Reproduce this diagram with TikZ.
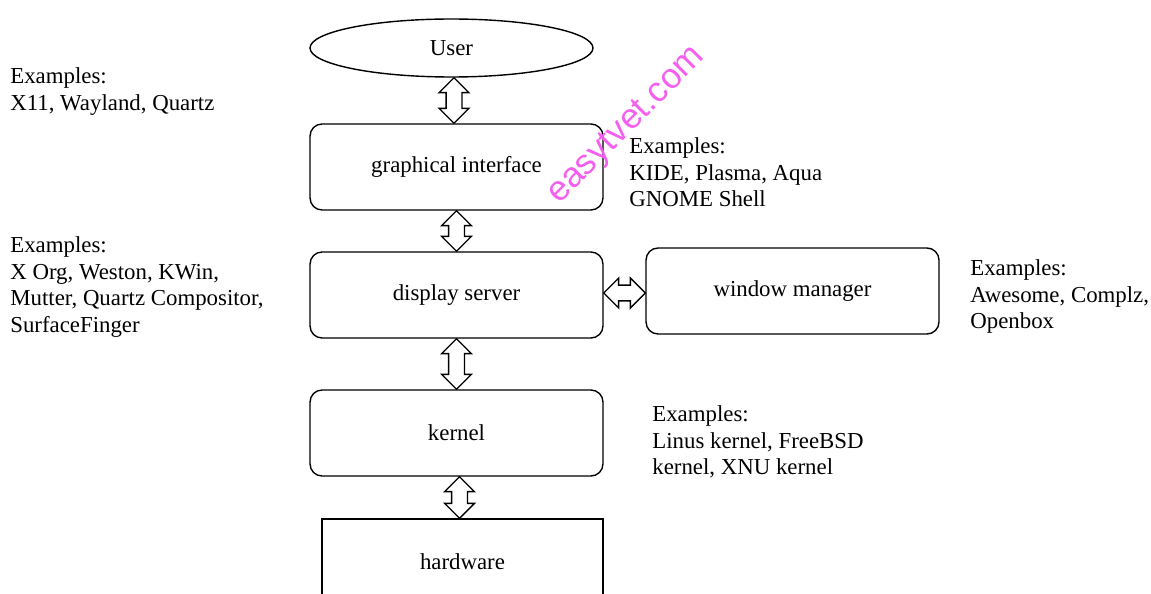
\documentclass[tikz,border=0pt]{standalone}
\usepackage{fontspec}
\setmainfont{Liberation Serif}
\newfontfamily\sitefont{Liberation Sans}
\usepackage{tikz}
\usetikzlibrary{positioning,shapes,calc}

\definecolor{sitepink}{RGB}{245,95,240}

\tikzset{
  layer/.style={draw, line width=0.8pt, rounded corners=0.24cm, minimum width=5.86cm, minimum height=1.72cm, inner sep=0, font=\fontsize{13}{15.3}\selectfont},
  examples/.style={anchor=north west, align=left, inner sep=0, font=\fontsize{13}{15.3}\selectfont},
  link/.style={draw, line width=0.75pt, fill=white, line join=miter}
}

% double arrow between two stacked boxes
\newcommand{\vlink}[2]{%
  \draw[link] let \p1=(#1.south), \p2=(#2.north), \p3=($(#1.south)!0.5!(#2.north)$) in
    (\x3,\y1) -- ++(-8.5pt,-8.5pt) -- ++(4pt,0) -- (\x3-4.5pt,\y2+8.5pt) -- ++(-4pt,0)
    -- (\x3,\y2) -- ++(8.5pt,8.5pt) -- ++(-4pt,0) -- (\x3+4.5pt,\y1-8.5pt) -- ++(4pt,0) -- cycle;}
% double arrow between two boxes side by side
\newcommand{\hlink}[2]{%
  \draw[link] let \p1=(#1.east), \p2=(#2.west), \p3=($(#1.east)!0.5!(#2.west)$) in
    (\x1,\y3) -- ++(8.5pt,8.5pt) -- ++(0,-4pt) -- (\x2-8.5pt,\y3+4.5pt) -- ++(0,4pt)
    -- (\x2,\y3) -- ++(-8.5pt,-8.5pt) -- ++(0,4pt) -- (\x1+8.5pt,\y3-4.5pt) -- ++(0,-4pt) -- cycle;}

\begin{document}
\begin{tikzpicture}[x=0.02cm, y=-0.02cm]
    % Fix the frame
    \useasboundingbox (0,0) rectangle (1151,594);
    \clip (0,0) rectangle (1151,594);

    % Draw user
    \node[draw, ellipse, line width=0.8pt, minimum width=5.66cm, minimum height=1.16cm, inner sep=0,
          font=\fontsize{13}{15.3}\selectfont] (user) at (451.5,48) {User};

    % Draw layers
    \node[layer] (gui) at (456.5,167) {graphical interface};
    \node[layer] (server) at (456.5,295) {display server};
    \node[layer] (wm) at (792.5,291) {window manager};
    \node[layer] (kernel) at (456.5,433) {kernel};
    \node[layer, rounded corners=0, minimum width=5.62cm, minimum height=1.7cm] (hw) at (462.5,561.5) {hardware};

    % Draw links
    \vlink{user}{gui}
    \vlink{gui}{server}
    \hlink{server}{wm}
    \vlink{server}{kernel}
    \vlink{kernel}{hw}

    % Draw examples
    \node[examples] (exserver) at (10,67) {Examples:\\X11, Wayland, Quartz};
    \node[examples] (exgui) at (629,137) {Examples:\\KIDE, Plasma, Aqua\\GNOME Shell};
    \node[examples] (excomp) at (10,236) {Examples:\\X Org, Weston, KWin,\\Mutter, Quartz Compositor,\\SurfaceFinger};
    \node[examples] (exwm) at (970,259) {Examples:\\Awesome, Complz,\\Openbox};
    \node[examples] (exkernel) at (652,405) {Examples:\\Linus kernel, FreeBSD\\kernel, XNU kernel};

    % Draw site mark
    \node[rotate=45, text=sitepink, inner sep=0, font=\sitefont\fontsize{20}{24}\selectfont] (site) at (627,126) {easytvet.com};
\end{tikzpicture}
\end{document}
